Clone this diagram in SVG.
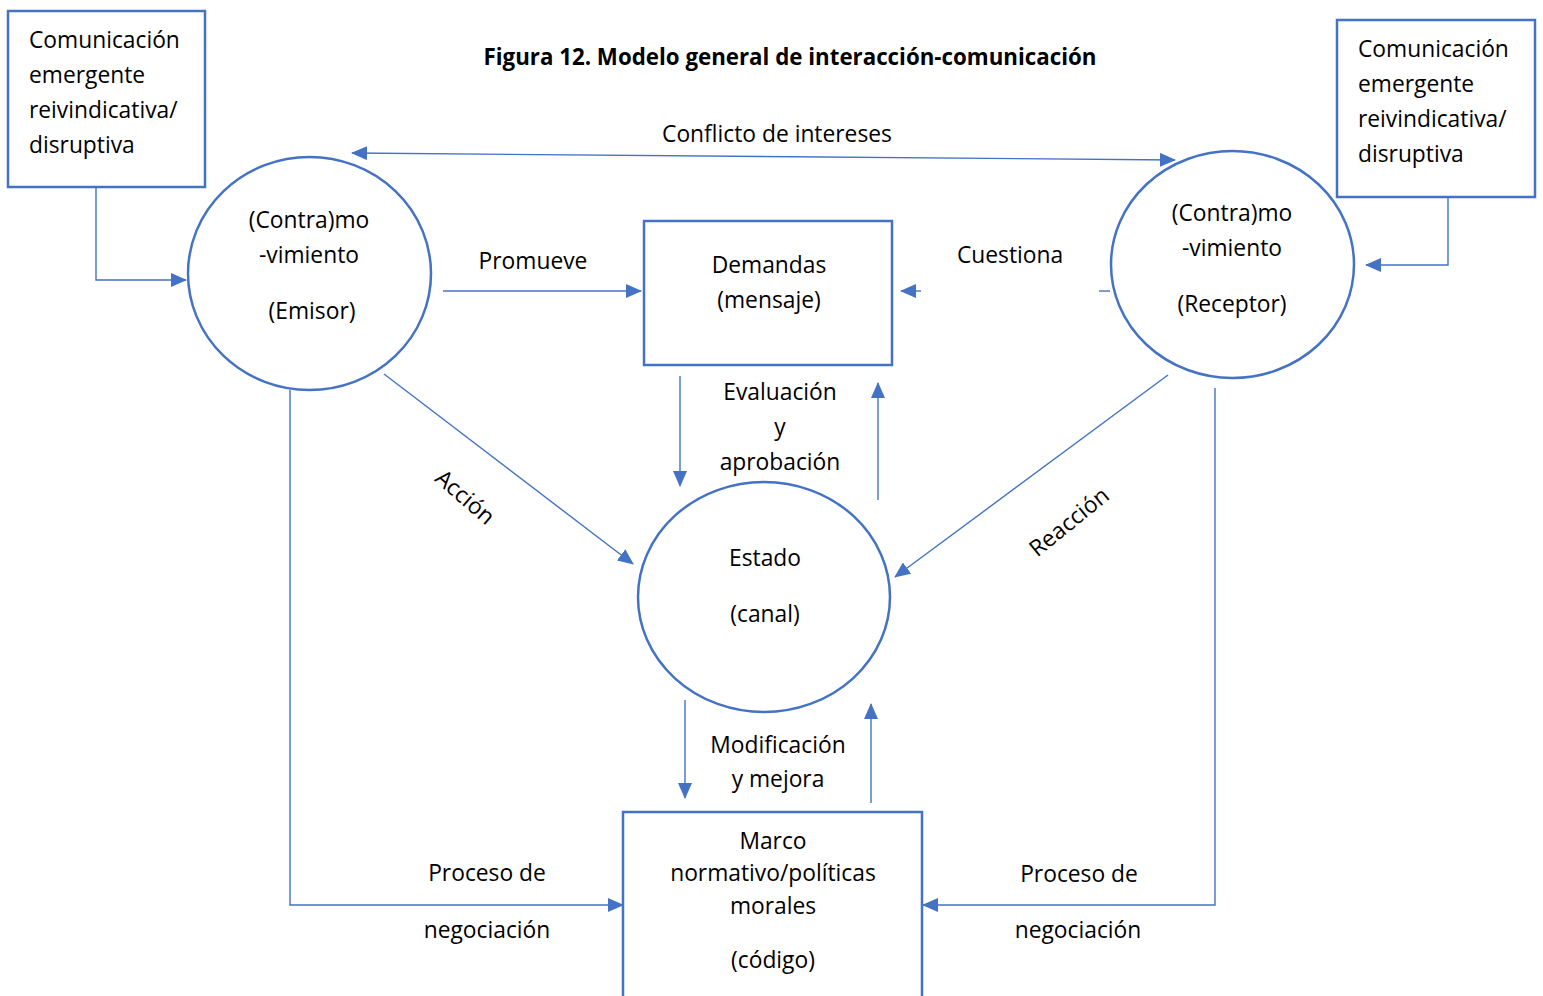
<svg xmlns="http://www.w3.org/2000/svg" width="1543" height="996" viewBox="0 0 1543 996">
<style>
.shape{fill:#fff;stroke:#4472C4;stroke-width:2.5}
.conn{fill:none;stroke:#4472C4;stroke-width:1.4}
text{font-family:"Open Sans","Noto Sans",sans-serif;font-size:22.8px;fill:#000}
.c{text-anchor:middle}
.title{font-weight:bold;font-size:22.3px}
</style>
<defs>
<marker id="ah" markerUnits="userSpaceOnUse" markerWidth="16" markerHeight="14" refX="15" refY="7" orient="auto-start-reverse">
<path d="M0,0 L16,7 L0,14 Z" fill="#4472C4"/>
</marker>
</defs>
<rect width="1543" height="996" fill="#fff"/>
<text class="c title" x="790" y="65">Figura 12. Modelo general de interacción-comunicación</text>
<g id="connectors">
<polyline class="conn" points="96,188 96,280 186,280" marker-end="url(#ah)"/>
<polyline class="conn" points="1448,197 1448,265 1366,265" marker-end="url(#ah)"/>
<line class="conn" x1="352" y1="153" x2="1175" y2="160" marker-start="url(#ah)" marker-end="url(#ah)"/>
<line class="conn" x1="443" y1="291" x2="641" y2="291" marker-end="url(#ah)"/>
<line class="conn" x1="1110" y1="291" x2="1099" y2="291"/>
<line class="conn" x1="921" y1="291" x2="901" y2="291" marker-end="url(#ah)"/>
<line class="conn" x1="680" y1="376" x2="680" y2="486" marker-end="url(#ah)"/>
<line class="conn" x1="878" y1="500" x2="878" y2="383" marker-end="url(#ah)"/>
<line class="conn" x1="384" y1="374" x2="633" y2="564" marker-end="url(#ah)"/>
<line class="conn" x1="1168" y1="375" x2="895" y2="577" marker-end="url(#ah)"/>
<line class="conn" x1="685" y1="700" x2="685" y2="798" marker-end="url(#ah)"/>
<line class="conn" x1="871" y1="803" x2="871" y2="704" marker-end="url(#ah)"/>
<polyline class="conn" points="290,390 290,905 623,905" marker-end="url(#ah)"/>
<polyline class="conn" points="1215,388 1215,905 923,905" marker-end="url(#ah)"/>
<text class="c" x="777" y="142">Conflicto de intereses</text>
<text class="c" x="533" y="269">Promueve</text>
<text class="c" x="1010" y="263">Cuestiona</text>
<text class="c" x="780" y="400">Evaluación</text>
<text class="c" x="780" y="435">y</text>
<text class="c" x="780" y="470">aprobación</text>
<text class="c" transform="translate(460,503) rotate(41)">Acción</text>
<text class="c" transform="translate(1074,528) rotate(-39)">Reacción</text>
<text class="c" x="778" y="753">Modificación</text>
<text class="c" x="778" y="787">y mejora</text>
<text class="c" x="487" y="881">Proceso de</text>
<text class="c" x="487" y="938">negociación</text>
<text class="c" x="1079" y="882">Proceso de</text>
<text class="c" x="1078" y="938">negociación</text>
</g>
<g id="box-left">
<rect class="shape" x="8" y="11" width="197" height="176"/>
<text x="29" y="48">Comunicación</text>
<text x="29" y="83">emergente</text>
<text x="29" y="118">reivindicativa/</text>
<text x="29" y="153">disruptiva</text>
</g>
<g id="box-right">
<rect class="shape" x="1337" y="20" width="198" height="177"/>
<text x="1358" y="57">Comunicación</text>
<text x="1358" y="92">emergente</text>
<text x="1358" y="127">reivindicativa/</text>
<text x="1358" y="162">disruptiva</text>
</g>
<g id="emisor">
<ellipse class="shape" cx="309.5" cy="273.5" rx="121.5" ry="116.5"/>
<text class="c" x="309" y="228">(Contra)mo</text>
<text class="c" x="309" y="263">-vimiento</text>
<text class="c" x="312" y="319">(Emisor)</text>
</g>
<g id="receptor">
<ellipse class="shape" cx="1232.5" cy="264.5" rx="121.5" ry="113.5"/>
<text class="c" x="1232" y="221">(Contra)mo</text>
<text class="c" x="1232" y="256">-vimiento</text>
<text class="c" x="1232" y="312">(Receptor)</text>
</g>
<g id="demandas">
<rect class="shape" x="644" y="221" width="248" height="144"/>
<text class="c" x="769" y="273">Demandas</text>
<text class="c" x="769" y="308">(mensaje)</text>
</g>
<g id="estado">
<ellipse class="shape" cx="764" cy="597" rx="126" ry="115"/>
<text class="c" x="765" y="566">Estado</text>
<text class="c" x="765" y="622">(canal)</text>
</g>
<g id="marco">
<path class="shape" d="M623,1000 L623,812 L922,812 L922,1000"/>
<text class="c" x="773" y="849">Marco</text>
<text class="c" x="773" y="881">normativo/políticas</text>
<text class="c" x="773" y="914">morales</text>
<text class="c" x="773" y="968">(código)</text>
</g>
</svg>
